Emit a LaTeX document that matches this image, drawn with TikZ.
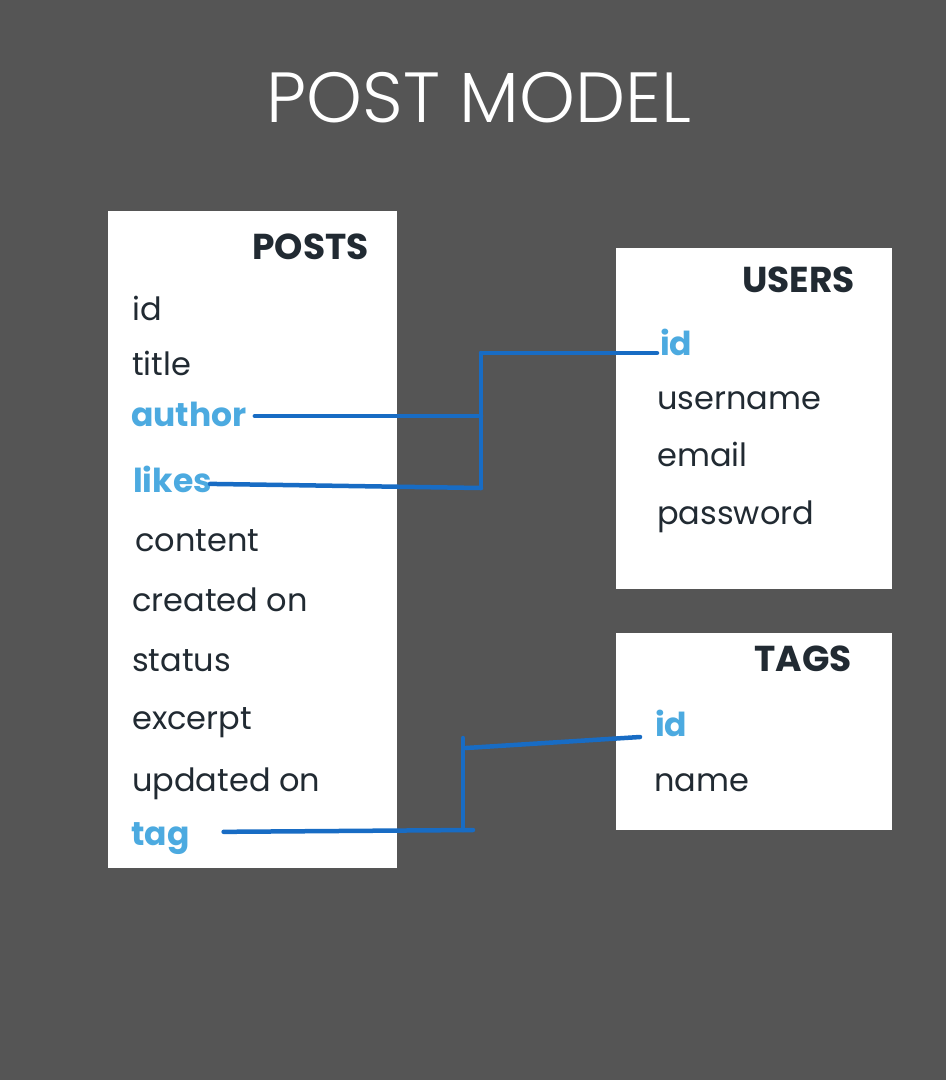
\documentclass[tikz,border=0pt]{standalone}
\usepackage{fontspec}
\setmainfont{Poppins}
\newfontfamily\titlefont{Poppins Light}
\usepackage{xcolor}
\usepackage{tikz}

\definecolor{bgcol}{RGB}{85,85,85}
\definecolor{inkcol}{RGB}{33,42,50}
\definecolor{keycol}{RGB}{76,170,224}
\definecolor{linkcol}{RGB}{24,108,196}

\tikzset{
  table/.style={fill=white, draw=none},
  head/.style={anchor=base east, inner sep=0pt, text=inkcol, font=\fontsize{36}{36}\selectfont\bfseries},
  field/.style={anchor=base west, inner sep=0pt, text=inkcol, font=\fontsize{32}{32}\selectfont},
  key/.style={field, text=keycol, font=\fontsize{33}{33}\selectfont\bfseries},
  link/.style={draw=linkcol, line width=4.5pt, line cap=round, line join=round}
}

\begin{document}
\begin{tikzpicture}[x=1pt, y=-1pt]
% Background
\fill[bgcol] (0,0) rectangle (946,1080);
\useasboundingbox (0,0) rectangle (946,1080);

% Title
\node[anchor=base, inner sep=0pt, text=white, font=\fontsize{71}{71}\selectfont\titlefont] (title) at (479,122) {POST MODEL};

% Tables
\fill[table] (108,211) rectangle (397,868);
\fill[table] (616,248) rectangle (892,589);
\fill[table] (616,633) rectangle (892,830);

% POSTS fields
\node[head] (posts) at (369,259) {POSTS};
\node[field] (p-id) at (132,320) {id};
\node[field] (p-title) at (132,375) {title};
\node[key] (p-author) at (131,426) {author};
\node[key] (p-likes) at (133,492) {likes};
\node[field] (p-content) at (135,551) {content};
\node[field] (p-created) at (132,611) {created on};
\node[field] (p-status) at (132,671) {status};
\node[field] (p-excerpt) at (132,729) {excerpt};
\node[field] (p-updated) at (132,791) {updated on};
\node[key] (p-tag) at (131,845) {tag};

% USERS fields
\node[head] (users) at (855,292) {USERS};
\node[key] (u-id) at (660,355) {id};
\node[field] (u-username) at (657,409) {username};
\node[field] (u-email) at (657,466) {email};
\node[field] (u-password) at (657,524) {password};

% TAGS fields
\node[head] (tags) at (852,671) {TAGS};
\node[key] (t-id) at (655,736) {id};
\node[field] (t-name) at (654,791) {name};

% Joints of the connectors
\coordinate (u-top) at (481,353);
\coordinate (u-bot) at (481,488);
\coordinate (t-top) at (463,738);
\coordinate (t-bot) at (463,830);

% Author and likes to users id
\draw[link] (u-top) -- (u-bot);
\draw[link, shorten <=8pt] ([yshift=-2pt]p-author.east) -- ([yshift=-2pt]p-author.east -| u-top);
\draw[link, shorten <=-2pt] ([yshift=-5pt]p-likes.east) -- (u-bot);
\draw[link] (u-top) -- ([xshift=-3pt, yshift=2pt]u-id.base west);

% Tag to tags id
\draw[link] (t-top) -- (t-bot);
\draw[link, shorten <=34pt] ([yshift=6pt]p-tag.east) -- ([xshift=10pt]t-bot);
\draw[link] ([xshift=3pt, yshift=-10pt]t-top) -- ([xshift=-15pt, yshift=-1pt]t-id.base west);
\end{tikzpicture}
\end{document}
